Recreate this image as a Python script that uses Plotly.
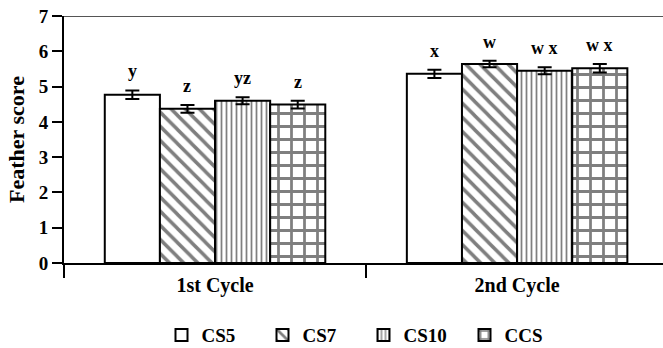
import plotly.graph_objects as go

categories = ["1st Cycle", "2nd Cycle"]
series = ["CS5", "CS7", "CS10", "CCS"]
values = {
    "CS5": [4.77, 5.36],
    "CS7": [4.37, 5.64],
    "CS10": [4.60, 5.45],
    "CCS": [4.49, 5.52],
}
errors = {
    "CS5": [0.12, 0.12],
    "CS7": [0.11, 0.09],
    "CS10": [0.10, 0.10],
    "CCS": [0.11, 0.12],
}
letters = {
    "CS5": ["y", "x"],
    "CS7": ["z", "w"],
    "CS10": ["yz", "w x"],
    "CCS": ["z", "w x"],
}
y_ticks = [0, 1, 2, 3, 4, 5, 6, 7]

patterns = {
    "CS5": dict(shape=""),
    "CS7": dict(shape="\\", size=10, solidity=0.35),
    "CS10": dict(shape="|", size=5, solidity=0.35),
    "CCS": dict(shape="+", size=13, solidity=0.38),
}

FONT = "Liberation Serif"
bargap = 0.27

fig = go.Figure()
for s in series:
    pat = dict(fgcolor="black", bgcolor="white", fillmode="overlay", **patterns[s])
    fig.add_trace(go.Bar(
        name=s,
        x=categories,
        y=values[s],
        marker=dict(color="white", line=dict(color="black", width=2), pattern=pat),
        error_y=dict(type="data", array=errors[s], color="black", thickness=2, width=7),
    ))

bw = (1 - bargap) / len(series)
for j, s in enumerate(series):
    for i, c in enumerate(categories):
        fig.add_annotation(
            x=i + (j - (len(series) - 1) / 2) * bw,
            y=values[s][i] + errors[s][i],
            text=letters[s][i], showarrow=False, yanchor="bottom", yshift=7,
            font=dict(family=FONT, size=18, color="black", weight="bold"),
        )

fig.add_shape(type="line", xref="paper", yref="y", x0=0, x1=1, y0=7, y1=7,
              line=dict(color="#555555", width=2))

fig.update_layout(
    width=663, height=348,
    margin=dict(l=64, r=0, t=16, b=85, autoexpand=False),
    plot_bgcolor="white", paper_bgcolor="white",
    barmode="group", bargap=bargap, bargroupgap=0,
    showlegend=True,
    legend=dict(orientation="h", x=0.5, xanchor="center", y=-0.215, yanchor="top",
                font=dict(family=FONT, size=19, color="black", weight="bold"),
                itemwidth=30, entrywidth=56, entrywidthmode="pixels"),
    font=dict(family=FONT, color="black"),
)
fig.update_xaxes(
    type="category", categoryorder="array", categoryarray=categories,
    range=[-0.5, 1.483], showline=True, linecolor="black", linewidth=2,
    ticks="outside", ticklen=13, tickwidth=2, tickcolor="black", tickson="boundaries",
    ticklabelstandoff=3,
    tickfont=dict(family=FONT, size=20, color="black", weight="bold"),
    showgrid=False, zeroline=False, fixedrange=True,
)
fig.update_yaxes(
    range=[0, 7], tickvals=y_ticks, showline=True, linecolor="black", linewidth=2,
    ticks="outside", ticklen=10, tickwidth=2, tickcolor="black",
    tickfont=dict(family=FONT, size=19, color="black", weight="bold"),
    title=dict(text="Feather score", font=dict(family=FONT, size=22, color="black", weight="bold"), standoff=8),
    showgrid=False, zeroline=False,
)

fig.write_html("out.html", config={"displayModeBar": False},
               post_script="document.body.style.margin='0';document.body.style.overflow='hidden';")
